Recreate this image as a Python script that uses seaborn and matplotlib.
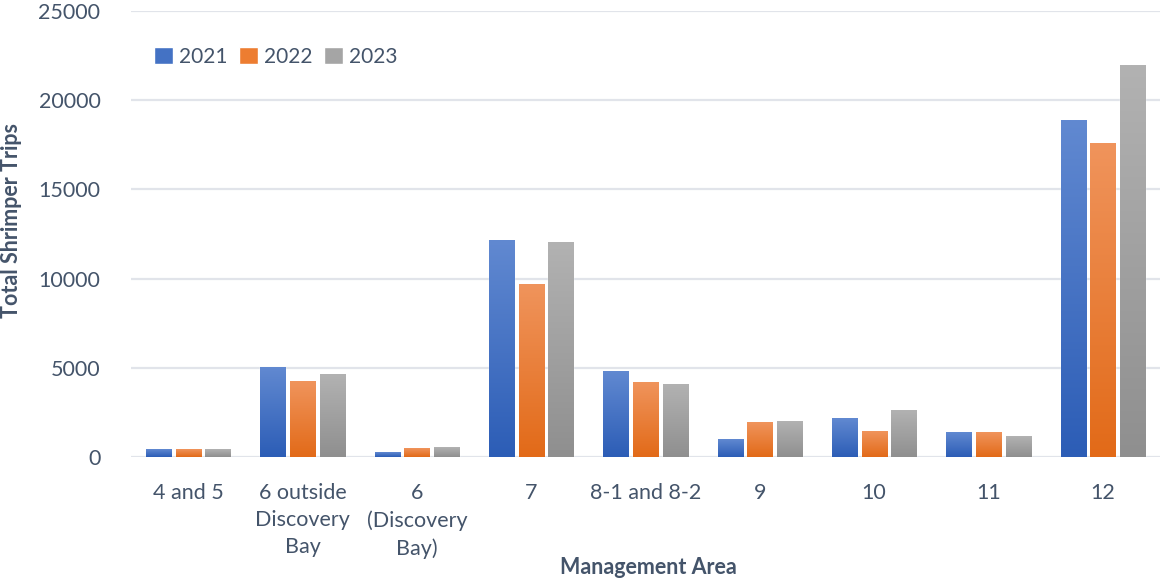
import seaborn as sns
import pandas as pd
import matplotlib.pyplot as plt
import matplotlib.colors as mcolors
import numpy as np

# Values
areas = ["4 and 5", "6 outside\nDiscovery\nBay", "6\n(Discovery\nBay)", "7",
         "8-1 and 8-2", "9", "10", "11", "12"]
years = ["2021", "2022", "2023"]
trips2021 = [440, 5040, 270, 12160, 4770, 1000, 2140, 1360, 18890]
trips2022 = [440, 4260, 490, 9650, 4150, 1920, 1410, 1360, 17600]
trips2023 = [440, 4600, 560, 12000, 4090, 1970, 2590, 1130, 21970]

colors = ["#4472C4", "#ED7D31", "#A5A5A5"]
gradTop = ["#6189D1", "#F0945C", "#B2B2B2"]
gradBottom = ["#2C5DB6", "#E26A18", "#8F8F8F"]
textColor = "#44546A"

df = pd.DataFrame({
    "area": areas * 3,
    "year": [y for y in years for _ in areas],
    "trips": trips2021 + trips2022 + trips2023,
})

sns.set_style("white")
plt.rcParams['font.family'] = ['Lato', 'DejaVu Sans']

fig = plt.figure(figsize=(11.63, 5.84), dpi=100)
ax = fig.add_axes([131 / 1163, (584 - 457) / 584, (1160 - 131) / 1163, (457 - 11) / 584])

sns.barplot(data=df, x="area", y="trips", hue="year", palette=colors,
            width=0.78, ax=ax, errorbar=None, zorder=3)

# shrink bars a bit to leave gaps, then paint vertical gradients over them
shrink = 0.04
nA = len(areas)
for i, patch in enumerate(ax.patches[:nA * 3]):
    hueIdx = i // nA
    x0 = patch.get_x() + shrink / 2
    w = patch.get_width() - shrink
    h = patch.get_height()
    patch.set_x(x0)
    patch.set_width(w)
    patch.set_facecolor(gradBottom[hueIdx])
    cmap = mcolors.LinearSegmentedColormap.from_list(
        "g%d" % hueIdx, [gradBottom[hueIdx], gradTop[hueIdx]])
    grad = np.linspace(0, 1, 256).reshape(-1, 1)
    ax.imshow(grad, cmap=cmap, extent=[x0, x0 + w, 0, h], origin="lower",
              aspect="auto", zorder=4)

ax.set_ylim(0, 25000)
ax.set_xlim(-0.5, len(areas) - 0.5)
ax.set_aspect("auto")

ax.set_yticks(range(0, 25001, 5000))
ax.yaxis.grid(True, color="#E1E4EA", linewidth=1.6)
ax.set_axisbelow(True)
for s in ax.spines.values():
    s.set_visible(False)
ax.tick_params(axis="both", length=0, labelsize=15.5, colors=textColor)
ax.tick_params(axis="y", pad=22)
ax.tick_params(axis="x", pad=19)
for lab in ax.get_xticklabels():
    lab.set_linespacing(1.42)
    lab.set_verticalalignment("top")

ax.set_xlabel("")
ax.set_ylabel("")
fig.text(648 / 1163, 1 - 568 / 584, "Management Area", fontsize=15.5, fontweight="bold",
         color=textColor, ha="center", va="center")
fig.text(12 / 1163, 1 - 220 / 584, "Total Shrimper Trips", fontsize=15.5, fontweight="bold",
         color=textColor, ha="center", va="center", rotation=90)

leg = ax.legend(loc="center left", bbox_to_anchor=(0.0225, 0.897), ncol=3, frameon=False,
                fontsize=15, handlelength=0.9, handleheight=0.9, handletextpad=0.3,
                columnspacing=0.55, borderpad=0, borderaxespad=0, labelcolor=textColor)
for h, c in zip(leg.legend_handles, colors):
    h.set_facecolor(c)

plt.savefig("out.png", dpi=100)
